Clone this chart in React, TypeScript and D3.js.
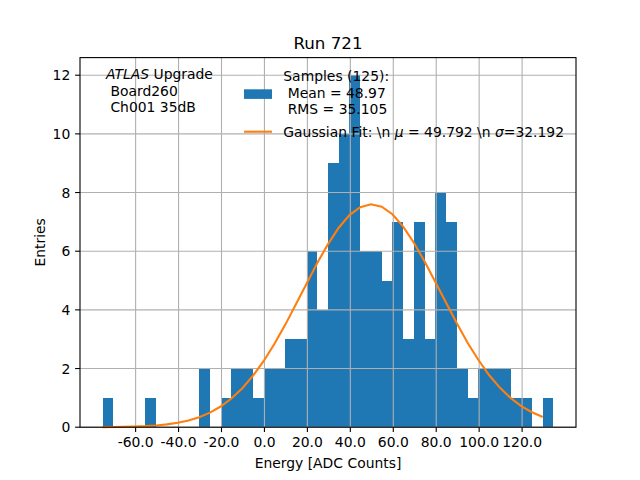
import * as d3 from "d3";

// histogram counts, 42 bins of width 5 starting at -75.4
const BIN_START = -75.4;
const BIN_WIDTH = 5;
const COUNTS = [
  1, 0, 0, 0, 1, 0, 0, 0, 0, 2, 0, 1, 2, 2, 1, 2, 2, 3, 3, 6, 4,
  9, 10, 12, 6, 6, 5, 7, 3, 7, 3, 8, 7, 2, 1, 2, 2, 2, 1, 1, 0, 1,
];

// gaussian fit curve, read at each bin's left edge
const FIT_VALUES = [
  0.004, 0.007, 0.013, 0.022, 0.036, 0.06, 0.096, 0.15, 0.229, 0.341, 0.496,
  0.705, 0.977, 1.32, 1.747, 2.25, 2.835, 3.48, 4.18, 4.89, 5.6, 6.24, 6.8,
  7.23, 7.5, 7.6, 7.52, 7.26, 6.84, 6.29, 5.65, 4.95, 4.24, 3.54, 2.88, 2.3,
  1.78, 1.35, 1.0, 0.72, 0.51, 0.35,
];

const X_TICKS = [-60, -40, -20, 0, 20, 40, 60, 80, 100, 120];
const X_TICK_LABELS = ["-60.0", "-40.0", "-20.0", "0.0", "20.0", "40.0", "60.0", "80.0", "100.0", "120.0"];
const Y_TICKS = [0, 2, 4, 6, 8, 10, 12];

const TITLE = "Run 721";
const X_LABEL = "Energy [ADC Counts]";
const Y_LABEL = "Entries";
const INFO_LINES = [" Board260", " Ch001 35dB"];
const HIST_LABEL = ["Samples (125):", " Mean = 48.97", " RMS = 35.105"];

const W = 640;
const H = 480;
const M = { left: 80, right: 576, top: 57.6, bottom: 427.2 };
const FONT = "DejaVu Sans, sans-serif";
const BLUE = "#1f77b4";
const ORANGE = "#ff7f0e";
const GRID = "#b0b0b0";

export default function App() {
  const edges = COUNTS.map((_, i) => BIN_START + i * BIN_WIDTH);
  const lo = BIN_START;
  const hi = BIN_START + COUNTS.length * BIN_WIDTH;
  const pad = (hi - lo) * 0.05;

  const x = d3.scaleLinear().domain([lo - pad, hi + pad]).range([M.left, M.right]);
  const y = d3.scaleLinear().domain([0, d3.max(COUNTS)! * 1.05]).range([M.bottom, M.top]);

  const line = d3
    .line<number>()
    .x((_, i) => x(edges[i]))
    .y((d) => y(d));

  return (
    <div style={{ position: "fixed", left: 0, top: 0 }}>
      <svg width={W} height={H} style={{ display: "block", background: "#fff" }} fontFamily={FONT}>
        {/* bars */}
        <g shapeRendering="crispEdges">
          {COUNTS.map((c, i) =>
            c > 0 ? (
              <rect
                key={i}
                x={x(edges[i])}
                y={y(c)}
                width={x(edges[i] + BIN_WIDTH) - x(edges[i])}
                height={y(0) - y(c)}
                fill={BLUE}
              />
            ) : null
          )}
        </g>

        {/* grid (drawn above bars, like matplotlib) */}
        {X_TICKS.map((t) => (
          <line key={"gx" + t} x1={x(t)} x2={x(t)} y1={M.top} y2={M.bottom} stroke={GRID} strokeWidth={1.1} />
        ))}
        {Y_TICKS.map((t) => (
          <line key={"gy" + t} x1={M.left} x2={M.right} y1={y(t)} y2={y(t)} stroke={GRID} strokeWidth={1.1} />
        ))}

        {/* fit */}
        <path d={line(FIT_VALUES)!} fill="none" stroke={ORANGE} strokeWidth={2.1} />

        {/* spines */}
        <rect
          x={M.left}
          y={M.top}
          width={M.right - M.left}
          height={M.bottom - M.top}
          fill="none"
          stroke="#000"
          strokeWidth={1.1}
        />

        {/* x ticks */}
        {X_TICKS.map((t, i) => (
          <g key={"xt" + t}>
            <line x1={x(t)} x2={x(t)} y1={M.bottom} y2={M.bottom + 4.9} stroke="#000" strokeWidth={1.1} />
            <text x={x(t)} y={M.bottom + 9.7} dy="0.76em" textAnchor="middle" fontSize={13.9}>
              {X_TICK_LABELS[i]}
            </text>
          </g>
        ))}

        {/* y ticks */}
        {Y_TICKS.map((t) => (
          <g key={"yt" + t}>
            <line x1={M.left - 4.9} x2={M.left} y1={y(t)} y2={y(t)} stroke="#000" strokeWidth={1.1} />
            <text x={M.left - 9.7} y={y(t)} dy="0.36em" textAnchor="end" fontSize={13.9}>
              {t}
            </text>
          </g>
        ))}

        {/* labels */}
        <text x={(M.left + M.right) / 2} y={49.3} textAnchor="middle" fontSize={16.7}>
          {TITLE}
        </text>
        <text x={(M.left + M.right) / 2} y={467.5} textAnchor="middle" fontSize={13.9}>
          {X_LABEL}
        </text>
        <text
          transform={`translate(44.5,${(M.top + M.bottom) / 2}) rotate(-90)`}
          textAnchor="middle"
          fontSize={13.9}
        >
          {Y_LABEL}
        </text>

        {/* ATLAS block */}
        <text x={106} y={79} fontSize={13.9}>
          <tspan fontStyle="italic">ATLAS</tspan>
          <tspan> Upgrade</tspan>
        </text>
        {INFO_LINES.map((s, i) => (
          <text key={s} x={106} y={79 + (i + 1) * 16.7} fontSize={13.9} style={{ whiteSpace: "pre" }}>
            {s}
          </text>
        ))}

        {/* legend */}
        <rect x={244} y={89.3} width={28} height={9.6} fill={BLUE} />
        {HIST_LABEL.map((s, i) => (
          <text key={s} x={283.3} y={81 + i * 16.5} fontSize={13.9} style={{ whiteSpace: "pre" }}>
            {s}
          </text>
        ))}
        <line x1={244} x2={272} y1={131.7} y2={131.7} stroke={ORANGE} strokeWidth={2.1} />
        <text x={283.3} y={136.6} fontSize={13.9} style={{ whiteSpace: "pre" }}>
          <tspan>{"Gaussian Fit: \\n "}</tspan>
          <tspan fontStyle="italic">μ</tspan>
          <tspan>{" = 49.792 \\n "}</tspan>
          <tspan fontStyle="italic">σ</tspan>
          <tspan>=32.192</tspan>
        </text>
      </svg>
    </div>
  );
}
